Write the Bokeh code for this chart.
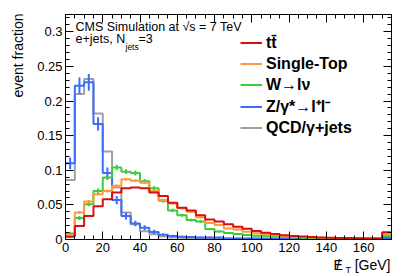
import numpy as np
from bokeh.plotting import figure
from bokeh.models import (Label, Legend, LegendItem, LinearAxis, FixedTicker, Range1d,
                          CustomJSTickFormatter)
from bokeh.embed import file_html
from bokeh.resources import INLINE

# ---- data (bin width 5 GeV, 0..175) ----
bin_lo = 0.0
bin_width = 5.0
ttbar = [0.004, 0.0195, 0.034, 0.048, 0.058, 0.068, 0.074, 0.075, 0.074, 0.068,
         0.063, 0.053, 0.046, 0.042, 0.035, 0.029, 0.026, 0.022, 0.0185, 0.0157,
         0.0123, 0.0099, 0.0078, 0.0062, 0.005, 0.0043, 0.0036, 0.003, 0.0026, 0.0023,
         0.002, 0.0018, 0.0016, 0.0014, 0.0105]
single_top = [0.0065, 0.039, 0.055, 0.0655, 0.070, 0.0775, 0.087, 0.085, 0.082, 0.070,
              0.057, 0.052, 0.045, 0.040, 0.032, 0.024, 0.021, 0.016, 0.0145, 0.0113,
              0.009, 0.0075, 0.006, 0.005, 0.0042, 0.0035, 0.003, 0.0025, 0.0022, 0.002,
              0.0018, 0.0016, 0.0014, 0.0012, 0.0075]
wjets = [0.0085, 0.031, 0.051, 0.070, 0.0896, 0.104, 0.098, 0.096, 0.084, 0.074,
         0.056, 0.042, 0.035, 0.028, 0.026, 0.015, 0.0115, 0.0095, 0.008, 0.0065,
         0.0055, 0.0048, 0.004, 0.0035, 0.003, 0.0026, 0.0023, 0.002, 0.0018, 0.0016,
         0.0015, 0.0013, 0.0012, 0.001, 0.005]
zjets = [0.110, 0.222, 0.227, 0.167, 0.096, 0.057, 0.034, 0.023, 0.017, 0.011,
         0.007, 0.005, 0.004, 0.0035, 0.003, 0.003, 0.0028, 0.0015, 0.0015, 0.0013,
         0.0013, 0.0012, 0.0012, 0.0012, 0.0011, 0.0011, 0.001, 0.001, 0.001, 0.001,
         0.001, 0.001, 0.001, 0.001, 0.002]
qcd = [0.086, 0.210, 0.232, 0.182, 0.127, 0.075, 0.039, 0.022, 0.012, 0.0075,
       0.0045, 0.003, 0.0025, 0.002, 0.0015, 0.0015, 0.0015, 0.0012, 0.0012, 0.001,
       0.001, 0.001, 0.001, 0.001, 0.001, 0.001, 0.001, 0.001, 0.001, 0.001,
       0.001, 0.001, 0.001, 0.001, 0.001]
zjets_err = [0.0085, 0.012, 0.012, 0.0095, 0.008, 0.006, 0.005, 0.004, 0.0035, 0.003,
             0.002, 0.002, 0.0015, 0.0015, 0.0012, 0.0012, 0.0012, 0.001, 0.001, 0.001,
             0.001, 0.001, 0.001, 0.001, 0.001, 0.001, 0.001, 0.001, 0.001, 0.001,
             0.001, 0.001, 0.001, 0.001, 0.001]
wjets_err = [0.0015, 0.003, 0.003, 0.0035, 0.0035, 0.004, 0.0035, 0.0035, 0.0035, 0.003,
             0.003, 0.0025, 0.002, 0.002, 0.002, 0.0015, 0.0015, 0.0012, 0.001, 0.001,
             0.001, 0.001, 0.001, 0.001, 0.001, 0.001, 0.001, 0.001, 0.001, 0.001,
             0.001, 0.001, 0.001, 0.001, 0.0015]
single_top_err = [0.001, 0.002, 0.002, 0.002, 0.002, 0.002, 0.002, 0.002, 0.002, 0.002,
                  0.002, 0.0015, 0.0015, 0.0015, 0.0015, 0.0012, 0.0012, 0.001, 0.001, 0.001,
                  0.001, 0.001, 0.001, 0.001, 0.001, 0.001, 0.001, 0.001, 0.001, 0.001,
                  0.001, 0.001, 0.001, 0.001, 0.001]
labels = ["t\u0074\u0304", "Single-Top", "W\u2192l\u03bd", "Z/\u03b3*\u2192l\u207al\u207b", "QCD/\u03b3+jets"]
colors = ["#d90f0f", "#ff9a3a", "#3ccc3c", "#3a6cff", "#a0a0a0"]

y_ticks = [0, 0.05, 0.1, 0.15, 0.2, 0.25, 0.3]
y_tick_labels = ["0", "0.05", "0.1", "0.15", "0.2", "0.25", "0.3"]
x_ticks = [0, 20, 40, 60, 80, 100, 120, 140, 160]

FONT = "Liberation Sans"
X0, X1, Y0, Y1 = 0.0, 175.0, 0.0, 0.325
FW, FH = 326, 225

p = figure(width=407, height=276, output_backend="svg", toolbar_location=None,
           x_range=Range1d(X0, X1), y_range=Range1d(Y0, Y1),
           min_border_left=65, min_border_right=16, min_border_top=14, min_border_bottom=37)
p.xgrid.visible = False
p.ygrid.visible = False
p.outline_line_color = "black"
p.outline_line_width = 1
p.background_fill_color = "white"
p.border_fill_color = "white"

xt = FixedTicker(ticks=x_ticks, minor_ticks=list(np.arange(0, 176, 5)))
yt = FixedTicker(ticks=y_ticks, minor_ticks=list(np.round(np.arange(0, 0.326, 0.01), 3)))

for ax in p.xaxis:
    ax.ticker = xt
for ax in p.yaxis:
    ax.ticker = yt
    ax.major_label_overrides = {t: l for t, l in zip(y_ticks, y_tick_labels)}

def style_axis(ax, show_labels):
    ax.major_tick_in = 8
    ax.major_tick_out = 0
    ax.minor_tick_in = 4
    ax.minor_tick_out = 0
    ax.axis_line_color = "black"
    ax.major_tick_line_color = "black"
    ax.minor_tick_line_color = "black"
    ax.major_label_text_font = FONT
    ax.major_label_text_font_size = "13px"
    ax.major_label_text_color = "black"
    ax.major_label_standoff = 3 if show_labels else 0
    if not show_labels:
        ax.formatter = CustomJSTickFormatter(code="return '';")

style_axis(p.xaxis[0], True)
style_axis(p.yaxis[0], True)

top = LinearAxis(ticker=xt)
style_axis(top, False)
p.add_layout(top, "above")
right = LinearAxis(ticker=yt)
style_axis(right, False)
p.add_layout(right, "right")

edges = bin_lo + bin_width * np.arange(len(ttbar) + 1)
centers = edges[:-1] + bin_width / 2

series = [ttbar, single_top, wjets, zjets, qcd]
renderers = {}
draw_order = [4, 3, 2, 1, 0]
errs = {3: zjets_err, 2: wjets_err, 1: single_top_err}
for i in draw_order:
    vals = np.array(series[i])
    yv = np.concatenate([vals, vals[-1:]])
    r = p.step(edges, yv, mode="after", line_color=colors[i], line_width=2)
    renderers[i] = r
    if i in errs:
        e = np.array(errs[i])
        p.segment(centers, vals - e, centers, vals + e, line_color=colors[i], line_width=2)

items = [LegendItem(label=labels[i], renderers=[renderers[i]]) for i in range(5)]
legend = Legend(items=items, location=(175, 101), background_fill_alpha=0,
                border_line_color=None, padding=0, margin=0, spacing=0,
                label_height=21, glyph_height=21, glyph_width=22, label_standoff=4,
                label_text_font=FONT, label_text_font_style="bold",
                label_text_font_size="16px", label_text_color="black")
p.add_layout(legend, "center")

def lab(text, x, y, size, align="left", angle=0.0):
    p.add_layout(Label(x=x, y=y, x_units="screen", y_units="screen", text=text,
                       text_font=FONT, text_font_size=size, text_align=align,
                       text_baseline="middle", angle=angle, text_color="black"))

def outer_lab(text, px, py, size, side, align="left", angle=0.0):
    # px, py: pixel offsets from the frame's bottom-left corner, converted to data units
    x = X0 + px * (X1 - X0) / FW
    y = Y0 + py * (Y1 - Y0) / FH
    p.add_layout(Label(x=x, y=y, x_units="data", y_units="data", text=text,
                       text_font=FONT, text_font_size=size, text_align=align,
                       text_baseline="middle", angle=angle, text_color="black"), side)

lab("CMS Simulation at \u221as = 7 TeV", 10, 213, "12.5px")
lab("e+jets, N", 10, 200.5, "12.5px")
lab("jets", 60, 193, "8.5px")
lab("=3", 73, 200.5, "12.5px")

outer_lab("event fraction", -47.5, 226, "14px", "left", align="right", angle=np.pi / 2)
outer_lab("E", 268, -25.5, "14px", "left")
outer_lab("/", 272.8, -25.5, "14px", "right", align="center")
outer_lab("T", 280, -30, "9px", "right")
outer_lab("[GeV]", 325, -25.5, "14px", "below", align="right")

open("out.html", "w").write(file_html(p, INLINE))
